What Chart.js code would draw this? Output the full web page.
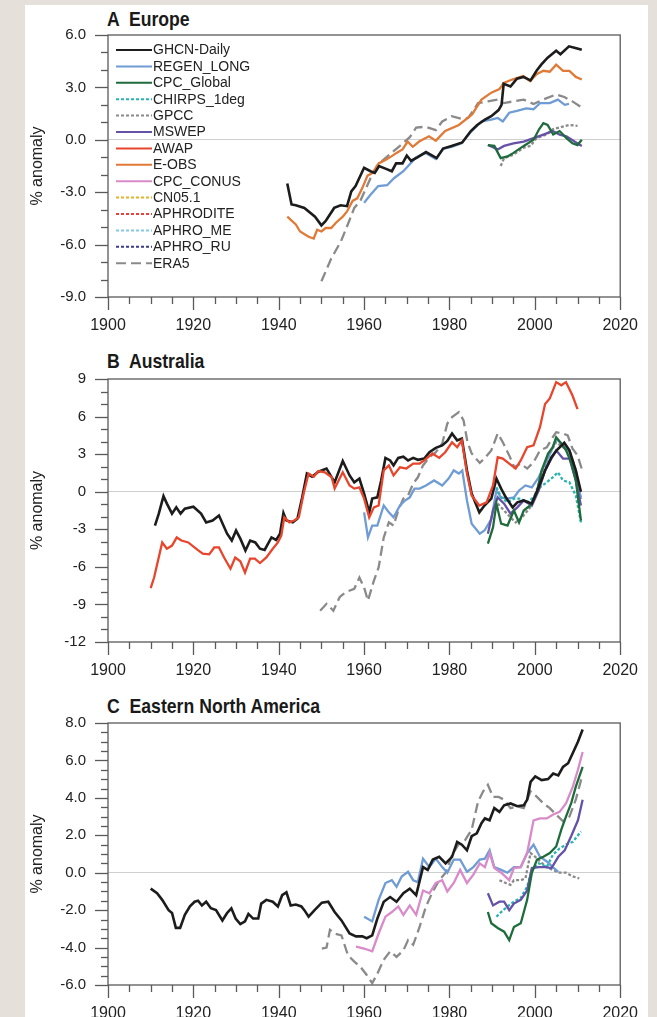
<!DOCTYPE html>
<html>
<head>
<meta charset="utf-8">
<script src="https://cdn.jsdelivr.net/npm/chart.js@4.4.0/dist/chart.umd.min.js"></script>
<style>
  body { margin:0; background:#e5e1da; width:657px; height:1017px; overflow:hidden; position:relative; font-family:"Liberation Sans", Arial, sans-serif; }
  #card { position:absolute; left:25px; top:5px; width:623px; height:1012px; background:#fff; }
  canvas { position:absolute; left:0; }
  .ttl { position:absolute; left:107px; font-family:"Liberation Sans", Arial, sans-serif; font-weight:bold; font-size:21px; line-height:22px; color:#1a1a1a; white-space:pre; transform:scaleX(0.84); transform-origin:0 0; }
</style>
</head>
<body>
<div id="card"></div>
<div class="ttl" style="top:8px">A  Europe</div>
<div class="ttl" style="top:350px">B  Australia</div>
<div class="ttl" style="top:695px">C  Eastern North America</div>
<canvas id="cA" width="657" height="340" style="top:0"></canvas>
<canvas id="cB" width="657" height="340" style="top:340px"></canvas>
<canvas id="cC" width="657" height="337" style="top:680px"></canvas>
<script>
// ---- data: [year, % anomaly] ----
// A Europe
const ghcnEU = [[1942,-2.5],[1943,-3.7],[1944,-3.75],[1946,-3.9],[1948.5,-4.4],[1950,-4.9],[1951,-4.65],[1953,-3.9],[1954.5,-3.75],[1956,-3.8],[1957,-2.95],[1958,-2.65],[1960,-1.6],[1961.5,-1.8],[1962.5,-1.9],[1963.5,-1.5],[1965,-1.65],[1966.5,-1.8],[1967.5,-1.35],[1969,-1.35],[1970,-0.9],[1971,-1.2],[1972.5,-1.0],[1974.5,-0.7],[1977,-1.05],[1978.5,-0.5],[1980.5,-0.35],[1983,-0.15],[1985,0.5],[1986.5,0.85],[1988.3,1.15],[1989.8,1.35],[1991.5,1.7],[1992.2,2.0],[1992.7,3.2],[1994.3,3.05],[1995.8,3.5],[1997.3,3.6],[1999,3.4],[2000.4,3.95],[2001.5,4.3],[2003,4.7],[2005,5.1],[2006,4.9],[2008,5.35],[2009.5,5.25],[2011,5.15]];
const regenEU = [[1960,-3.6],[1961.5,-3.15],[1963.3,-2.65],[1965.4,-2.6],[1967,-2.2],[1969.2,-1.8],[1970.7,-1.4],[1972.2,-1.0],[1974.4,-0.75],[1976.8,-1.1],[1978.6,-0.5],[1980.5,-0.4],[1982.8,-0.2],[1985.2,0.5],[1987.5,1.05],[1989.8,1.15],[1991.3,1.25],[1992.5,1.05],[1994,1.55],[1995.8,1.65],[1998,1.8],[1999.7,1.75],[2001.2,2.1],[2003.5,2.1],[2005.4,2.3],[2007,2.0],[2008,2.05]];
const eobsEU = [[1942,-4.4],[1944,-4.85],[1945,-5.25],[1947,-5.55],[1948.2,-5.65],[1949,-5.15],[1950,-5.25],[1951,-5.05],[1952.3,-5.05],[1953.4,-4.75],[1955,-4.4],[1956,-4.1],[1957.3,-3.5],[1958.4,-3.35],[1959.6,-2.75],[1960.8,-2.05],[1962,-1.9],[1963.4,-1.35],[1965,-1.15],[1966.4,-0.95],[1967.6,-0.75],[1969,-0.55],[1970.2,-0.1],[1971.4,-0.4],[1972.9,-0.1],[1975.2,0.2],[1976.8,-0.05],[1979,0.5],[1982.2,0.85],[1985.3,1.45],[1987.5,2.3],[1989.8,2.7],[1991.7,2.9],[1992.7,3.25],[1994.7,3.45],[1997.3,3.65],[1998.9,3.35],[2000.4,3.75],[2002,3.95],[2003.5,3.9],[2005,4.3],[2006.6,3.95],[2008.1,3.95],[2009.6,3.6],[2011,3.45]];
const era5EU = [[1950,-8.1],[1952.3,-6.8],[1954.6,-5.8],[1956.5,-4.65],[1957.7,-3.9],[1959.2,-3.45],[1961.5,-2.2],[1963,-1.5],[1964.5,-1.15],[1966.9,-0.65],[1968.4,-0.35],[1970.7,0.15],[1972.2,0.7],[1974.4,0.75],[1976.8,0.55],[1978.3,1.05],[1980.5,1.35],[1982.8,1.2],[1984.4,1.25],[1986.7,2.1],[1989,2.2],[1991.3,2.3],[1992.7,2.1],[1995,2.2],[1997.4,2.3],[1999.7,2.05],[2001.9,2.3],[2005,2.6],[2006.9,2.45],[2008.8,2.2],[2011,1.85]];
const gpccEU = [[1992,-1.5],[1992.8,-1.05],[1995,-0.85],[1997.4,-0.45],[1999,-0.35],[2000.4,0.1],[2002.7,0.3],[2004.2,0.6],[2006.5,0.75],[2008,0.85],[2010,0.8]];
const cpcgEU = [[1989,-0.3],[1990.5,-0.35],[1992,-1.05],[1993.6,-0.95],[1995,-0.75],[1997.4,-0.35],[1999.7,0.0],[2001,0.6],[2002,0.95],[2003,0.85],[2004.3,0.3],[2005.8,0.5],[2007.4,0.1],[2008.8,-0.2],[2010,-0.3],[2011,0.0]];
const mswepEU = [[1989,-0.3],[1991.3,-0.55],[1992.8,-0.35],[1995,-0.2],[1997.4,-0.1],[1999.7,0.1],[2002,0.3],[2004.2,0.5],[2005.8,0.3],[2007.4,0.2],[2009.3,-0.1],[2011,-0.35]];

// B Australia
const ghcnAU = [[1911,-2.7],[1911.9,-1.75],[1913,-0.35],[1913.8,-0.95],[1915,-1.75],[1916,-1.25],[1917,-1.75],[1918,-1.35],[1920,-1.2],[1921.8,-1.75],[1923,-2.45],[1924.5,-2.3],[1926,-1.9],[1927.9,-3.35],[1929,-3.9],[1930,-3.1],[1931,-3.75],[1932.2,-4.7],[1933.3,-3.9],[1934.5,-4.05],[1935.6,-4.55],[1936.7,-4.65],[1938.3,-3.65],[1939.4,-3.85],[1940.3,-3.35],[1941.1,-1.7],[1941.8,-2.3],[1943.3,-2.45],[1944.4,-2.15],[1945.5,-0.45],[1946.6,1.45],[1947.8,1.2],[1949.3,1.6],[1951.2,1.85],[1953.1,0.75],[1955,2.45],[1956.6,1.3],[1957.7,0.75],[1958.9,1.05],[1960,-0.15],[1961.2,-1.65],[1961.9,-0.55],[1963.1,-0.45],[1964,0.9],[1965,2.7],[1966.1,2.5],[1966.9,2.1],[1968,2.7],[1969.2,2.8],[1970.3,2.5],[1971.5,2.7],[1972.6,2.55],[1974.1,2.65],[1975.3,3.15],[1976.8,3.5],[1978.3,3.7],[1979.5,4.05],[1980.6,4.65],[1981.8,4.1],[1982.9,4.25],[1984.1,1.7],[1985.2,-0.15],[1987,-1.65],[1988.2,-1.1],[1989.8,-0.55],[1991,1.05],[1992.1,0.25],[1993.2,-0.45],[1994.8,-1.25],[1995.9,-0.85],[1997.4,-0.7],[1999.3,-0.95],[2000.9,0.35],[2002.4,1.7],[2003.9,2.75],[2005.1,3.3],[2006.9,3.9],[2008.1,3.3],[2009.6,1.7],[2010.8,0.0]];
const awapAU = [[1910,-7.7],[1910.8,-6.85],[1912.7,-4.05],[1913.8,-4.55],[1915,-4.3],[1916.1,-3.65],[1917.2,-3.9],[1918.8,-4.05],[1921,-4.65],[1922.2,-4.95],[1923.7,-5.0],[1924.9,-4.45],[1926,-4.45],[1927.2,-5.25],[1928.7,-6.15],[1929.8,-5.25],[1931,-5.55],[1932.1,-6.45],[1933.3,-5.35],[1934.4,-5.35],[1935.6,-5.7],[1937.1,-5.25],[1938.6,-4.55],[1939.8,-4.05],[1940.6,-3.5],[1941.3,-2.05],[1942.5,-2.45],[1943.6,-2.3],[1944.7,-2.05],[1945.9,-0.05],[1947,1.45],[1948.2,1.2],[1949.3,1.65],[1950.8,1.55],[1952.4,1.15],[1953.1,0.25],[1955,1.55],[1956.6,0.5],[1957.7,0.25],[1958.9,0.35],[1960,-0.55],[1961.2,-2.05],[1962.3,-1.25],[1963.4,-1.1],[1964.6,1.7],[1965.8,2.1],[1966.9,1.3],[1968.4,1.95],[1969.9,1.85],[1971.5,2.25],[1973,2.25],[1974.1,2.5],[1976,3.05],[1977.6,2.7],[1979,3.15],[1980.6,3.95],[1981.8,3.55],[1982.9,4.1],[1984.1,1.45],[1985.2,-0.3],[1987,-1.1],[1988.7,-0.85],[1990.2,0.5],[1991.3,2.75],[1992.5,2.65],[1994,2.25],[1995.5,1.85],[1996.7,2.5],[1998.2,3.55],[1999.7,3.7],[2001.2,5.15],[2002.4,7.0],[2003.5,7.45],[2005,8.75],[2006.2,8.5],[2007.3,8.75],[2008.8,7.7],[2010,6.6]];
const regenAU = [[1960,-1.65],[1960.9,-3.65],[1961.9,-2.7],[1963.1,-2.7],[1964.6,-1.1],[1965.8,-1.65],[1966.9,-2.05],[1968.4,-1.1],[1969.6,-0.7],[1970.7,-0.45],[1971.8,0.25],[1973,0.25],[1974.5,0.5],[1976.4,0.9],[1978.3,0.5],[1979.8,1.05],[1981,1.7],[1982.2,1.45],[1983,1.7],[1984.1,-0.7],[1985.2,-2.55],[1987.1,-3.35],[1988.2,-3.1],[1989.8,-2.2],[1991,0.1],[1992.1,-0.45],[1993.6,-0.55],[1995.1,-0.45],[1996.3,0.1],[1997.8,0.5],[1999.3,0.35],[2000.9,1.15],[2002.8,2.5],[2003.9,3.3],[2005,4.25],[2006.6,3.7],[2008.1,3.15],[2009.6,1.15],[2010.8,-0.45]];
const era5AU = [[1949.7,-9.5],[1951.2,-8.95],[1952.8,-9.5],[1954.3,-8.4],[1955.8,-8.0],[1957.7,-7.75],[1958.9,-6.85],[1960,-7.65],[1960.9,-8.7],[1962.3,-7.1],[1963.4,-6.05],[1964.6,-3.65],[1965.8,-2.45],[1966.9,-2.7],[1968,-1.5],[1969.2,-0.55],[1970.3,-0.3],[1971.5,0.65],[1972.6,1.15],[1973.8,2.1],[1975.3,2.75],[1976.8,3.15],[1978.3,3.85],[1979.5,5.45],[1980.6,5.95],[1982.2,6.35],[1983.3,5.7],[1984.2,4.0],[1985.2,3.05],[1987.1,2.3],[1988.2,2.65],[1989.8,3.3],[1991.3,4.65],[1992.5,3.95],[1994,2.9],[1995.2,1.95],[1996.7,2.25],[1998.2,1.85],[1999.7,2.35],[2001.2,3.3],[2002.8,3.55],[2004.2,4.35],[2005,4.75],[2006.6,4.65],[2007.7,4.5],[2008.8,3.45],[2010,2.9],[2011.1,1.7]];
const cpcgAU = [[1989,-4.15],[1990.2,-2.85],[1991,-0.95],[1992.1,-2.55],[1993.6,-2.7],[1995.1,-1.5],[1996.3,-2.45],[1997.4,-1.5],[1998.9,-1.1],[2000.4,-0.15],[2001.6,1.7],[2003.1,3.05],[2004.2,3.55],[2005,4.35],[2006.2,3.85],[2007.3,3.3],[2008.5,2.35],[2009.6,0.9],[2010.8,-2.3]];
const mswepAU = [[1989,-3.35],[1990.2,-1.5],[1991.3,-0.45],[1992.8,-0.95],[1994.3,-1.75],[1995.9,-1.25],[1997.4,-0.7],[1999.3,-1.1],[2000.9,0.1],[2002.4,1.7],[2003.9,2.65],[2005,3.3],[2006.6,2.65],[2008.1,2.65],[2009.6,0.9],[2010.8,-1.1]];
const chirpsAU = [[1991,0.35],[1992.1,-0.45],[1993.6,-0.85],[1995.1,-0.55],[1996.7,-0.55],[1998.2,-0.85],[1999.7,-0.45],[2001.2,0.35],[2002.8,0.75],[2004.2,1.15],[2005.4,1.55],[2006.6,0.9],[2008.1,0.75],[2009.6,-0.3],[2010.8,-2.45]];
const gpccAU = [[1991.3,-0.95],[1992.8,-1.5],[1994.3,-2.05],[1995.5,-2.45],[1997,-2.05],[1998.9,-1.25],[2000.4,0.1],[2002,1.7],[2003.5,3.05],[2005,3.95],[2006.6,3.55],[2008.1,3.3],[2009.6,1.7],[2010.8,-0.7]];

// C Eastern North America
const ghcnNA = [[1910,-0.85],[1911.5,-1.1],[1912.7,-1.45],[1914.2,-2.0],[1915,-2.15],[1915.9,-2.95],[1916.9,-2.95],[1918,-2.25],[1919.2,-1.8],[1920.3,-1.55],[1921.1,-1.5],[1922,-1.75],[1923,-1.55],[1924.1,-1.9],[1925.3,-2.0],[1926.8,-2.55],[1927.9,-2.15],[1928.9,-1.9],[1929.9,-2.45],[1931,-2.75],[1932.1,-2.6],[1932.9,-2.2],[1934,-2.45],[1935.2,-2.45],[1935.9,-1.65],[1937.1,-1.45],[1938.6,-1.55],[1939.8,-1.8],[1940.8,-1.2],[1941.8,-1.05],[1942.8,-1.75],[1944,-1.7],[1945.3,-1.8],[1946,-2.0],[1947,-2.35],[1948.4,-2.0],[1950.1,-1.6],[1951.6,-1.55],[1953.1,-2.1],[1954.7,-2.55],[1956.6,-3.25],[1958.1,-3.4],[1959.6,-3.4],[1960.6,-3.5],[1961.9,-3.35],[1963.1,-2.45],[1964.6,-1.55],[1966.1,-1.3],[1967.6,-1.55],[1969.2,-1.1],[1970.7,-0.85],[1972.2,-1.2],[1973.8,0.3],[1974.9,0.15],[1976.1,0.7],[1977.6,0.85],[1979.1,0.5],[1980.6,0.85],[1981.8,1.65],[1982.9,1.5],[1984.1,1.2],[1985.2,1.95],[1986.4,2.1],[1987.5,2.65],[1988.3,2.9],[1989.4,2.8],[1990.5,3.45],[1991.7,3.25],[1992.8,3.6],[1994.3,3.7],[1995.9,3.55],[1997.4,3.6],[1998.2,3.9],[1999,4.85],[2000.1,5.15],[2001.6,4.95],[2003.1,5.0],[2004.3,5.3],[2005.5,5.2],[2006.6,5.65],[2007.8,5.85],[2008.9,6.4],[2010.1,7.0],[2011.2,7.65]];
const regenNA = [[1960,-2.35],[1961.9,-2.6],[1963.4,-1.45],[1965,-0.55],[1966.5,-0.4],[1967.6,-0.75],[1968.8,-0.2],[1970.3,0.05],[1971.5,-0.4],[1972.6,-0.5],[1973.8,0.75],[1975.3,0.3],[1976.8,0.75],[1978.3,0.3],[1979.5,0.0],[1981,0.7],[1982.5,0.7],[1984.1,0.05],[1985.6,0.3],[1987.1,0.7],[1988.3,0.75],[1989.4,1.2],[1990.5,0.3],[1992.1,0.15],[1993.6,0.0],[1995.1,0.3],[1996.7,0.3],[1998.2,1.05],[1999.7,1.5],[2001.2,0.85],[2002.8,0.6],[2004.2,0.3],[2005.5,0.05]];
const conusNA = [[1958.1,-3.95],[1960,-4.05],[1961.9,-4.2],[1963.4,-3.25],[1965,-2.35],[1966.5,-2.1],[1968,-1.8],[1969.2,-2.25],[1970.7,-1.75],[1972.2,-2.25],[1973.8,-0.95],[1975.3,-1.1],[1976.8,-0.55],[1978.3,-0.4],[1979.5,-1.0],[1981,-0.55],[1982.5,0.15],[1984.1,-0.55],[1985.6,-0.1],[1987.1,0.5],[1988.3,0.3],[1989.4,1.05],[1990.5,0.25],[1992.1,0.0],[1994,-0.4],[1995.1,0.25],[1996.7,0.3],[1998.2,1.05],[1999.7,2.8],[2001.2,2.9],[2002.8,2.9],[2004.2,3.1],[2005.8,3.25],[2007.3,3.7],[2008.9,4.6],[2010.1,5.5],[2011.2,6.45]];
const era5NA = [[1950.1,-4.05],[1951.2,-4.0],[1952,-3.05],[1953.1,-3.25],[1954.7,-3.35],[1956.2,-4.4],[1957.7,-4.75],[1959.2,-5.05],[1960.4,-5.4],[1961.9,-5.9],[1963.1,-5.4],[1964.6,-4.65],[1966.1,-4.2],[1967.6,-4.5],[1969.2,-4.15],[1970.3,-3.6],[1971.5,-3.85],[1973,-2.9],[1974.5,-1.8],[1976.1,-1.0],[1977.6,-0.4],[1979.1,0.0],[1980.6,0.95],[1982.1,1.5],[1983.7,1.75],[1985.2,2.3],[1986.7,3.8],[1987.9,4.35],[1989,4.7],[1990.2,4.05],[1991.5,4.05],[1992.8,3.9],[1994.3,3.45],[1995.9,3.55],[1997.4,3.45],[1999,4.35],[2000.5,4.05],[2002,3.7],[2003.5,3.45],[2005,3.1],[2006.6,2.75],[2008.1,3.0],[2009.6,3.9],[2011,5.1]];
const gpccNA = [[1991.7,-0.4],[1993.2,-0.55],[1994.3,-0.65],[1995.1,-0.4],[1996.7,-0.4],[1997.8,-0.3],[1999,1.05],[2000.1,0.85],[2001.2,0.6],[2002.8,0.3],[2004.2,0.15],[2005.8,0.0],[2007.3,0.0],[2008.9,-0.2],[2010.4,-0.3]];
const cpcgNA = [[1989,-2.1],[1989.8,-2.7],[1991.3,-2.95],[1992.8,-3.15],[1994,-3.6],[1995.1,-2.9],[1996.7,-2.7],[1998.2,-1.45],[1999.3,0.0],[2000.5,0.7],[2002,0.85],[2003.5,1.05],[2005,1.4],[2006.2,2.3],[2007.3,3.0],[2008.5,3.7],[2009.6,4.6],[2011.2,5.65]];
const mswepNA = [[1989,-1.1],[1990.2,-1.75],[1991.7,-1.55],[1992.8,-1.55],[1994,-2.0],[1995.1,-1.65],[1996.7,-1.45],[1998.2,-0.95],[1999.3,0.25],[2000.9,0.3],[2002.4,0.3],[2003.9,0.25],[2005.5,0.85],[2007,1.2],[2008.5,1.95],[2010.1,2.8],[2011.2,3.9]];
const chirpsNA = [[1991,-2.35],[1992.1,-2.1],[1993.6,-1.8],[1995.1,-1.55],[1996.7,-1.35],[1998.2,-0.75],[1999.3,0.15],[2000.9,0.5],[2002.8,0.3],[2004.2,0.95],[2005.8,1.3],[2007.3,1.5],[2008.9,1.65],[2010.8,2.2]];

// legend entries (panel A)
const legendNames = ['GHCN-Daily','REGEN_LONG','CPC_Global','CHIRPS_1deg','GPCC','MSWEP','AWAP','E-OBS','CPC_CONUS','CN05.1','APHRODITE','APHRO_ME','APHRO_RU','ERA5'];

const styles = {
  'GHCN-Daily':  {color:'#1c1c1c', dash:[], width:2.6},
  'REGEN_LONG':  {color:'#6f9cd4', dash:[]},
  'CPC_Global':  {color:'#1e6b3c', dash:[]},
  'CHIRPS_1deg': {color:'#2ab3b3', dash:[3,2]},
  'GPCC':        {color:'#8a8a8a', dash:[3,2]},
  'MSWEP':       {color:'#6552a6', dash:[]},
  'AWAP':        {color:'#e8462c', dash:[]},
  'E-OBS':       {color:'#e07a36', dash:[]},
  'CPC_CONUS':   {color:'#d98ac8', dash:[]},
  'CN05.1':      {color:'#e2b328', dash:[3,2]},
  'APHRODITE':   {color:'#e8403a', dash:[3,2]},
  'APHRO_ME':    {color:'#86c8e6', dash:[3,2]},
  'APHRO_RU':    {color:'#3b3b8c', dash:[3,2]},
  'ERA5':        {color:'#8a8a8a', dash:[10,5]}
};

// frame, outward ticks and the inside legend
const frameTicks = {
  id: 'frameTicks',
  afterDraw(chart, args, opts) {
    const ctx = chart.ctx, a = chart.chartArea;
    const x = chart.scales.x, y = chart.scales.y;
    ctx.save();
    ctx.strokeStyle = '#5a5a5a';
    ctx.lineWidth = 1.3;
    ctx.strokeRect(a.left, a.top, a.right - a.left, a.bottom - a.top);
    y.ticks.forEach(t => {
      const py = Math.round(y.getPixelForValue(t.value)) + 0.5;
      const len = isMajor(t.value, opts.yMajor) ? 13 : 7;
      ctx.beginPath(); ctx.moveTo(a.left - len, py); ctx.lineTo(a.left, py); ctx.stroke();
    });
    x.ticks.forEach(t => {
      const px = Math.round(x.getPixelForValue(t.value)) + 0.5;
      const len = t.value % 20 === 0 ? 13 : 7;
      ctx.beginPath(); ctx.moveTo(px, a.bottom); ctx.lineTo(px, a.bottom + len); ctx.stroke();
    });
    if (opts.legend) {
      ctx.font = '14px "Liberation Sans", Arial, sans-serif';
      ctx.textBaseline = 'middle';
      opts.legend.forEach((name, i) => {
        const st = styles[name];
        const ly = 50 + i * 16.4;
        ctx.strokeStyle = st.color;
        ctx.lineWidth = 2;
        ctx.setLineDash(st.dash);
        ctx.beginPath(); ctx.moveTo(116, ly); ctx.lineTo(152, ly); ctx.stroke();
        ctx.setLineDash([]);
        ctx.fillStyle = '#222';
        ctx.fillText(name, 153, ly + 0.5);
      });
    }
    ctx.restore();
  }
};

function isMajor(v, step) {
  return Math.abs(v / step - Math.round(v / step)) < 1e-6;
}

function makePanel(id, series, yMin, yMax, yMajor, yMinor, dec, padTop, xH, legend) {
  return new Chart(document.getElementById(id), {
    type: 'line',
    data: {
      datasets: series.map(s => ({
        label: s[0],
        data: s[1].map(p => ({x: p[0], y: p[1]})),
        borderColor: styles[s[0]].color,
        borderWidth: styles[s[0]].width || 2.3,
        borderDash: styles[s[0]].dash,
        pointRadius: 0,
        fill: false,
        tension: 0
      }))
    },
    options: {
      responsive: false,
      animation: false,
      layout: {padding: {top: padTop, right: 25, left: 0, bottom: 0}},
      plugins: {
        legend: {display: false},
        tooltip: {enabled: false},
        frameTicks: {yMajor: yMajor, legend: legend}
      },
      scales: {
        x: {
          type: 'linear', min: 1900, max: 2020,
          afterFit: s => { s.height = xH; },
          border: {display: false},
          grid: {display: false, drawTicks: false},
          ticks: {
            stepSize: 5, autoSkip: false, maxRotation: 0, padding: 19,
            color: '#222', font: {size: 16, family: '"Liberation Sans", Arial, sans-serif'},
            callback: v => (v % 20 === 0 ? String(v) : '')
          }
        },
        y: {
          min: yMin, max: yMax,
          afterFit: s => { s.width = 108; },
          border: {display: false},
          grid: {
            drawTicks: false,
            color: c => (c.tick && Math.abs(c.tick.value) < 1e-9 ? '#cfcfcf' : 'rgba(0,0,0,0)')
          },
          ticks: {
            stepSize: yMinor, autoSkip: false, padding: 22,
            color: '#222', font: {size: 15, family: '"Liberation Sans", Arial, sans-serif'},
            callback: v => (isMajor(v, yMajor) ? v.toFixed(dec) : '')
          },
          title: {
            display: true, text: '% anomaly', color: '#222',
            font: {size: 16, family: '"Liberation Sans", Arial, sans-serif'},
            padding: {top: 28, bottom: 0}
          }
        }
      }
    },
    plugins: [frameTicks]
  });
}

// first in the list is drawn on top
makePanel('cA', [
  ['GHCN-Daily', ghcnEU], ['E-OBS', eobsEU], ['CPC_Global', cpcgEU], ['MSWEP', mswepEU],
  ['REGEN_LONG', regenEU], ['GPCC', gpccEU], ['ERA5', era5EU]
], -9, 6, 3, 1, 1, 35, 43, legendNames);

makePanel('cB', [
  ['AWAP', awapAU], ['GHCN-Daily', ghcnAU], ['CPC_Global', cpcgAU], ['MSWEP', mswepAU],
  ['CHIRPS_1deg', chirpsAU], ['REGEN_LONG', regenAU], ['GPCC', gpccAU], ['ERA5', era5AU]
], -12, 9, 3, 1, 0, 39, 38, null);

makePanel('cC', [
  ['GHCN-Daily', ghcnNA], ['CPC_CONUS', conusNA], ['CPC_Global', cpcgNA], ['MSWEP', mswepNA],
  ['CHIRPS_1deg', chirpsNA], ['REGEN_LONG', regenNA], ['GPCC', gpccNA], ['ERA5', era5NA]
], -6, 8, 2, 0.5, 1, 43, 32, null);
</script>
</body>
</html>
